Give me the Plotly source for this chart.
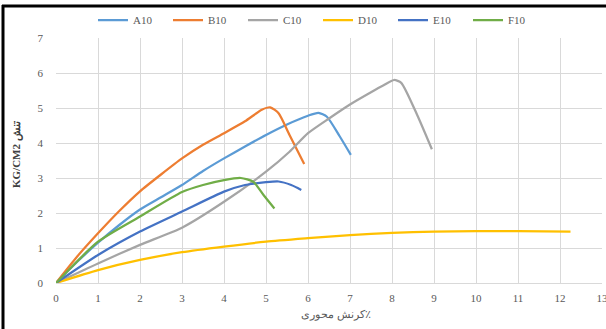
import plotly.graph_objects as go

# ---- data ----
a10_x = [0, 0.5, 1, 1.5, 2, 2.5, 3, 3.5, 4, 4.5, 5, 5.5, 6, 6.25, 6.45, 6.75, 7.02]
a10_y = [0, 0.6, 1.15, 1.65, 2.1, 2.45, 2.8, 3.2, 3.56, 3.9, 4.23, 4.53, 4.78, 4.86, 4.75, 4.2, 3.66]

b10_x = [0, 0.5, 1, 1.5, 2, 2.5, 3, 3.5, 4, 4.5, 4.9, 5.1, 5.3, 5.56, 5.91]
b10_y = [0, 0.75, 1.42, 2.05, 2.62, 3.1, 3.56, 3.95, 4.28, 4.62, 4.95, 5.02, 4.85, 4.23, 3.4]

c10_x = [0, 1, 2, 3, 4, 5, 5.56, 6, 6.5, 7, 7.5, 7.8, 8.05, 8.22, 8.6, 8.95]
c10_y = [0, 0.56, 1.09, 1.58, 2.32, 3.18, 3.75, 4.28, 4.7, 5.1, 5.45, 5.65, 5.8, 5.72, 4.8, 3.82]

d10_x = [0, 1, 2, 3, 4, 5, 6, 7, 8, 9, 10, 11, 12.25]
d10_y = [0, 0.37, 0.66, 0.88, 1.04, 1.18, 1.28, 1.37, 1.43, 1.47, 1.48, 1.48, 1.47]

e10_x = [0, 1, 2, 3, 4, 4.5, 5, 5.3, 5.6, 5.84]
e10_y = [0, 0.8, 1.47, 2.04, 2.61, 2.8, 2.88, 2.9, 2.8, 2.66]

f10_x = [0, 1, 2, 3, 3.5, 4, 4.4, 4.7, 4.95, 5.2]
f10_y = [0, 1.18, 1.9, 2.6, 2.8, 2.94, 3.0, 2.89, 2.5, 2.13]

series_names = ["A10", "B10", "C10", "D10", "E10", "F10"]
series_x = [a10_x, b10_x, c10_x, d10_x, e10_x, f10_x]
series_y = [a10_y, b10_y, c10_y, d10_y, e10_y, f10_y]
colors = ["#5B9BD5", "#ED7D31", "#A5A5A5", "#FFC000", "#4472C4", "#70AD47"]

x_ticks = list(range(0, 14))
y_ticks = list(range(0, 8))

x_title = "\u200eکرنش محوری٪"
y_title = "KG/CM2 تنش"

FONT = "Liberation Serif"
GRAY = "#595959"

fig = go.Figure()
for name, xs, ys, c in zip(series_names, series_x, series_y, colors):
    fig.add_trace(go.Scatter(
        x=xs, y=ys, name=name, mode="lines",
        line=dict(color=c, width=2.25, shape="spline", smoothing=0.6),
    ))

W, H = 606, 329
L, R, T, B = 56, 4, 38, 46
pw, ph = W - L - R, H - T - B

def px_x(p):
    return (p - L) / pw

def px_y(p):
    return (H - B - p) / ph

fig.update_layout(
    width=W, height=H,
    margin=dict(l=L, r=R, t=T, b=B, autoexpand=False),
    paper_bgcolor="white", plot_bgcolor="white",
    font=dict(family=FONT, size=11, color=GRAY),
    showlegend=True,
    legend=dict(
        orientation="h", xref="paper", yref="container",
        x=px_x(318), xanchor="center", y=1 - 20 / H, yanchor="middle",
        font=dict(family=FONT, size=11, color=GRAY),
        entrywidth=30, entrywidthmode="pixels",
        bgcolor="rgba(0,0,0,0)",
    ),
    xaxis=dict(
        range=[0, 13], tickvals=x_ticks, ticktext=[str(v) for v in x_ticks],
        showgrid=True, gridcolor="#D9D9D9", gridwidth=1,
        zeroline=False, showline=True, linecolor="#D9D9D9", linewidth=1,
        ticks="", ticklabelstandoff=5, fixedrange=True, automargin=False,
        ticklabeloverflow="allow",
    ),
    yaxis=dict(
        range=[0, 7], tickvals=y_ticks, ticktext=[str(v) for v in y_ticks],
        showgrid=True, gridcolor="#D9D9D9", gridwidth=1,
        zeroline=False, showline=False,
        ticks="", ticklabelstandoff=12, fixedrange=True, automargin=False,
    ),
    annotations=[
        dict(text=x_title, xref="paper", yref="paper", x=px_x(336), y=px_y(314),
             showarrow=False, font=dict(family=FONT, size=11, color=GRAY),
             xanchor="center", yanchor="middle"),
        dict(text="<b>" + y_title + "</b>", xref="paper", yref="paper", x=px_x(16), y=px_y(155),
             showarrow=False, textangle=-90, font=dict(family=FONT, size=11, color="#404040"),
             xanchor="center", yanchor="middle"),
    ],
    shapes=[
        dict(type="line", xref="paper", yref="paper", x0=px_x(3), x1=px_x(3),
             y0=px_y(5), y1=px_y(H + 2), line=dict(color="black", width=3), layer="above"),
        dict(type="line", xref="paper", yref="paper", x0=px_x(2), x1=px_x(W + 2),
             y0=px_y(6), y1=px_y(6), line=dict(color="black", width=3), layer="above"),
    ],
)

fig.write_html(
    "out.html",
    config={"displayModeBar": False, "staticPlot": True},
    post_script="document.body.style.margin='0px';document.body.style.overflow='hidden';",
)
